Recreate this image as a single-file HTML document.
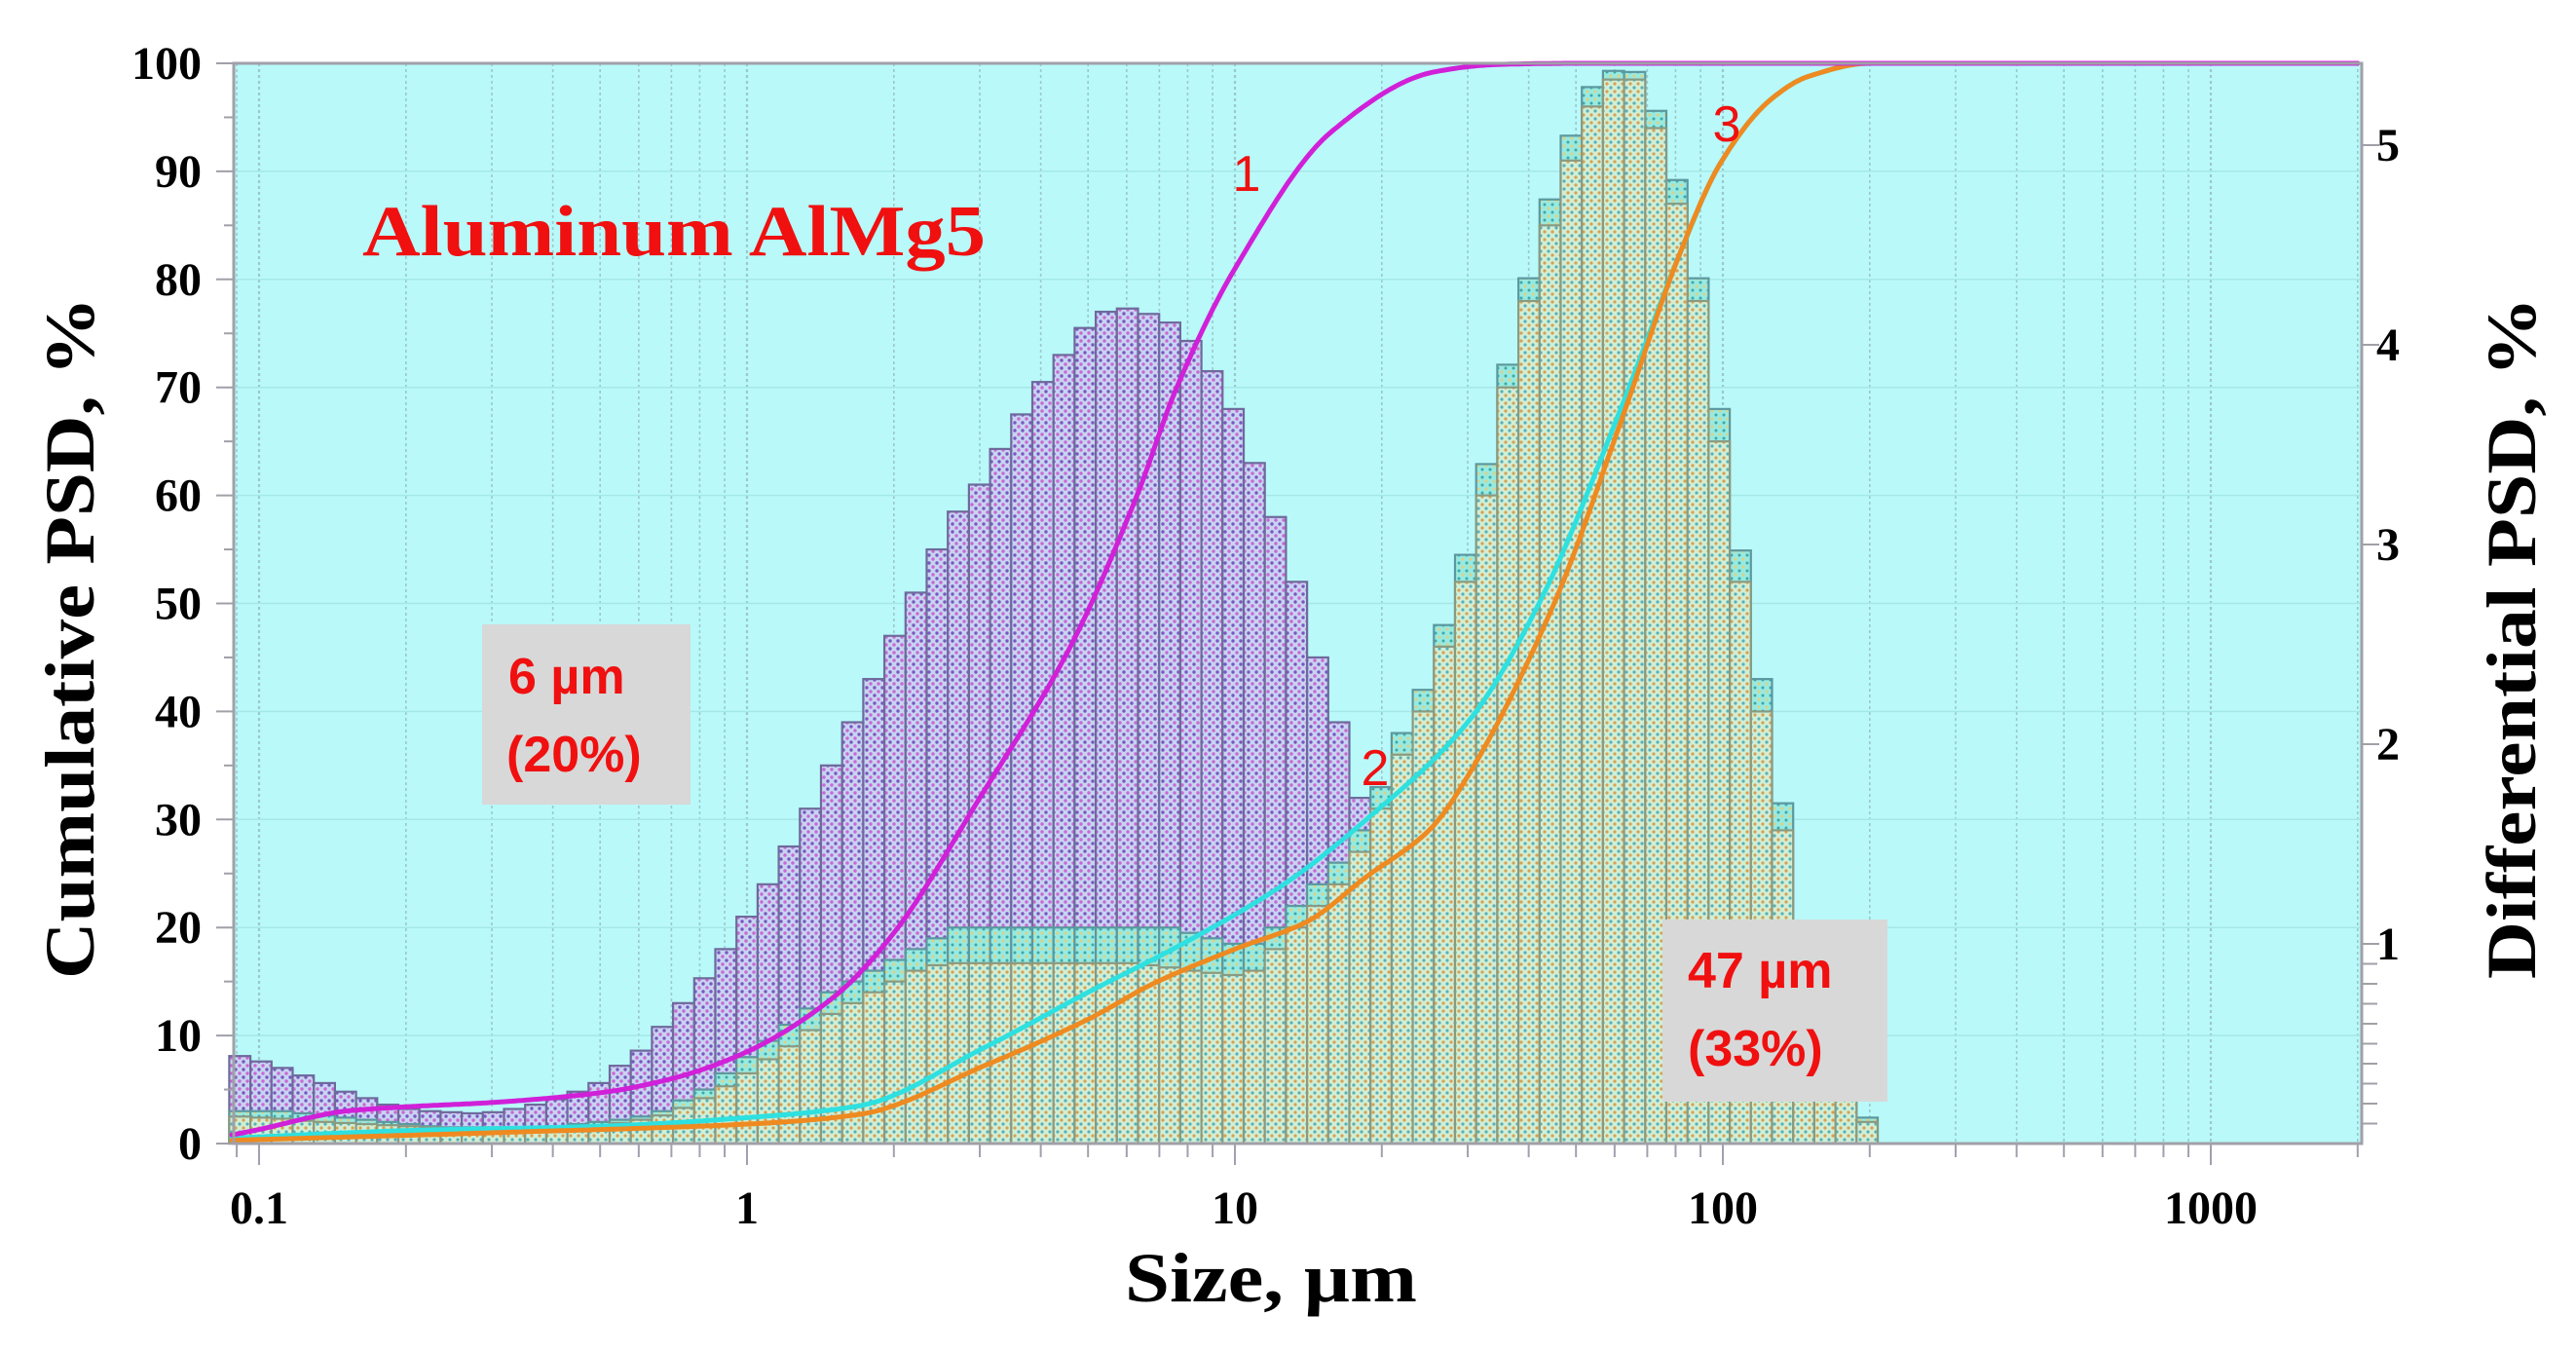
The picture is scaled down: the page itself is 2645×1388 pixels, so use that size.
<!DOCTYPE html>
<html><head><meta charset="utf-8"><style>
html,body{margin:0;padding:0;background:#fff;}
svg{display:block;}
</style></head><body>
<svg id="chart" width="2645" height="1388" viewBox="0 0 2645 1388" xmlns="http://www.w3.org/2000/svg">
<defs>
<pattern id="pPurple" width="8" height="8" patternUnits="userSpaceOnUse">
<rect width="8" height="8" fill="#c8d4f2"/>
<circle cx="2" cy="2" r="1.7" fill="#7858c0"/>
<circle cx="6" cy="6" r="1.7" fill="#c868d0"/>
</pattern>
<pattern id="pCyan" width="8" height="8" patternUnits="userSpaceOnUse">
<rect width="8" height="8" fill="#98eae0"/>
<circle cx="2" cy="2" r="1.5" fill="#40a8a8"/>
<circle cx="6" cy="6" r="1.5" fill="#e0d080"/>
</pattern>
<pattern id="pYellow" width="8" height="8" patternUnits="userSpaceOnUse">
<rect width="8" height="8" fill="#d2eed4"/>
<circle cx="2" cy="6" r="1.6" fill="#d8a050"/>
<circle cx="6" cy="2" r="1.6" fill="#58b0b8"/>
</pattern>
</defs>
<g id="plot"></g>
</svg>
<script>
// ---- data ----
const purpleBins = [8.1,7.6,7.0,6.3,5.6,4.8,4.2,3.6,3.2,3.0,2.9,2.8,2.9,3.2,3.6,4.1,4.8,5.6,7.2,8.6,10.8,13,15.3,18,21,24,27.5,31,35,39,43,47,51,55,58.5,61,64.3,67.5,70.5,73,75.5,77,77.3,76.8,76,74.3,71.5,68,63,58,52,45,39,32,25,18,12,7,4,2.5,1.5,1,0.6,0.5,0.4,0.3,0.2];
const cyanBins = [3,3,3,2.8,2.6,2.4,2.2,2,1.8,1.6,1.5,1.5,1.5,1.5,1.5,1.6,1.8,2,2.2,2.5,3,4,5,6.5,8,9.5,11,12.5,14,15,16,17,18,19,20,20,20,20,20,20,20,20,20,20,20,19.5,19,18.5,18.5,20,22,24,26,29,33,38,42,48,54.5,62.9,72.1,80.1,87.4,93.3,97.8,99.3,99.2,95.6,89.2,80.1,68,54.9,43,31.5,20.3,10,4.8,2.4];
const yellowBins = [2.5,2.4,2.3,2.1,2,1.9,1.8,1.7,1.6,1.5,1.4,1.3,1.3,1.3,1.3,1.4,1.5,1.7,1.9,2.2,2.6,3.3,4.2,5.3,6.5,7.8,9,10.5,12,13,14,15,16,16.5,16.7,16.7,16.7,16.7,16.7,16.7,16.7,16.7,16.7,16.5,16.3,16,15.8,15.6,16,18,20,22,24,27,31,36,40,46,52,60,70,78,85,91,96,98.5,98.5,94,87,78,65,52,40,29,18,8.5,4,2];
const xTicks = [0.1,1,10,100,1000];
const xTickLabels = ["0.1","1","10","100","1000"];
const yTicks = [0,10,20,30,40,50,60,70,80,90,100];
const y2Ticks = [1,2,3,4,5];
const c1x = [0.088,0.1,0.13,0.15,0.2,0.3,0.5,0.7,1,1.5,2,3,4.6,6.3,7.6,10,15.8,25.6,35,50,2000];
const c1y = [0.8,1.3,2.5,3,3.4,3.8,4.7,6,8.5,13.5,19.5,32,46,60,70,81,93.7,99.2,99.9,100,100];
const c2x = [0.088,0.2,0.5,1,1.7,3.1,5,7.9,12.6,18.6,30,42,62,81,99,125,150,200,2000];
const c2y = [0.5,1.2,1.6,2.4,3.5,9,14,18.6,24,30,39,50,68.2,82,90.8,96.6,98.8,100,100];
const c3x = [0.088,0.3,1,1.7,3.1,5,6.8,10,14,18.6,25,30,45,62,81,99,125,150,200,2000];
const c3y = [0.3,1,1.8,2.7,7.3,11.5,14.8,18,20.5,24.7,29,34,49.9,67,82,90.8,96.6,98.8,100,100];

// ---- scales ----
const L=240, R=2425, T=65, B=1174;
const X0=266, DEC=501;
function xs(v){return X0+(Math.log10(v)+1)*DEC;}
function ys(p){return B-(B-T)*p/100;}
function ys2(d){return B-d*205;}
const binW=21.7, bin0=235.4;
function binLeft(k){return bin0+binW*k;}

const NS="http://www.w3.org/2000/svg";
const g=document.getElementById('plot');
function mk(tag,attrs,parent){const e=document.createElementNS(NS,tag);for(const k in attrs)e.setAttribute(k,attrs[k]);(parent||g).appendChild(e);return e;}

const bg=mk('rect',{x:L,y:T,width:R-L,height:B-T,fill:'#b9f9f9'});



const grid=mk('g',{});


for(let d=-2;d<=3;d++){for(let m=1;m<10;m++){const v=m*Math.pow(10,d);const x=xs(v);if(x<L||x>R)continue;
 mk('line',{x1:x,y1:T,x2:x,y2:B,stroke:'#9cc8cc','stroke-width':m===1?2.2:1.6,'stroke-dasharray':'3,3'},grid);
 mk('line',{x1:x,y1:B,x2:x,y2:B+(m===1?22:14),stroke:'#a0a0b0','stroke-width':2},grid);}}
yTicks.forEach(t=>{mk('line',{x1:L,y1:ys(t),x2:R,y2:ys(t),stroke:'#a6e8e8','stroke-width':1.5},grid);});

function drawBars(arr,fill,name,stroke){
 const gg=mk('g',{});
 
 
 arr.forEach((v,k)=>{const x=binLeft(k);const y=ys(v);
  const r=mk('rect',{x:x,y:y,width:binW,height:B-y,fill:fill,stroke:stroke,'stroke-width':2.2},gg);
  
  
 });
}
drawBars(purpleBins,'url(#pPurple)','bars-sample-1','#6e6a9c');
drawBars(cyanBins,'url(#pCyan)','bars-sample-2','#5c98a0');
drawBars(yellowBins,'url(#pYellow)','bars-sample-3','#8a9a80');

// monotone cubic interpolation in log-x space
function monotone(xa,ya){
 const n=xa.length, lx=xa.map(v=>Math.log10(v));
 const d=[],m=new Array(n);
 for(let i=0;i<n-1;i++)d.push((ya[i+1]-ya[i])/(lx[i+1]-lx[i]));
 m[0]=d[0];m[n-1]=d[n-2];
 for(let i=1;i<n-1;i++){ if(d[i-1]*d[i]<=0)m[i]=0; else m[i]=2/(1/d[i-1]+1/d[i]); }
 return function(v){const t0=Math.log10(v);let i=0;while(i<n-2&&t0>lx[i+1])i++;
  const h=lx[i+1]-lx[i],t=(t0-lx[i])/h;const t2=t*t,t3=t2*t;
  return (2*t3-3*t2+1)*ya[i]+(t3-2*t2+t)*h*m[i]+(-2*t3+3*t2)*ya[i+1]+(t3-t2)*h*m[i+1];};
}
function drawCurve(xa,ya,color,name){
 const f=monotone(xa,ya);let d='';
 const lo=Math.log10(xa[0]),hi=Math.log10(2000);
 for(let s=0;s<=600;s++){const v=Math.pow(10,lo+(hi-lo)*s/600);const x=Math.min(xs(v),R);
  d+=(s?'L':'M')+x.toFixed(1)+','+ys(Math.min(100,f(v))).toFixed(1);}
 const p=mk('path',{d:d,fill:'none',stroke:color,'stroke-width':5,'stroke-linejoin':'round','stroke-linecap':'round'});
 
 
}
drawCurve(c2x,c2y,'#2ee0e0','cumulative-curve-2');
drawCurve(c3x,c3y,'#ee8a20','cumulative-curve-3');
drawCurve(c1x,c1y,'#d020d8','cumulative-curve-1');

const fr=mk('rect',{x:L,y:T,width:R-L,height:B-T,fill:'none',stroke:'#a0a0a8','stroke-width':3});



const ax=mk('g',{'font-family':'Liberation Serif, serif','font-weight':'bold','font-size':48,fill:'#000'});


yTicks.forEach(t=>{mk('line',{x1:L-18,y1:ys(t),x2:L,y2:ys(t),stroke:'#a0a0a8','stroke-width':2},ax);
 if(t<100) mk('line',{x1:L-10,y1:ys(t+5),x2:L,y2:ys(t+5),stroke:'#a0a0a8','stroke-width':2},ax);
 const tx=mk('text',{x:207,y:ys(t)+16,'text-anchor':'end'},ax);tx.textContent=String(t);
 
 });
y2Ticks.forEach(t=>{mk('line',{x1:R,y1:ys2(t),x2:R+18,y2:ys2(t),stroke:'#a0a0a8','stroke-width':2},ax);
 const tx=mk('text',{x:2440,y:ys2(t)+16,'text-anchor':'start'},ax);tx.textContent=String(t);
 
 });
for(let i=1;i<10;i++){mk('line',{x1:R,y1:ys2(i/10),x2:R+16,y2:ys2(i/10),stroke:'#a0a0a8','stroke-width':2},ax);}
xTicks.forEach((t,i)=>{const tx=mk('text',{x:xs(t),y:1256,'text-anchor':'middle'},ax);tx.textContent=xTickLabels[i];
 
 });
</script>
<svg style="position:absolute;left:0;top:0" width="2645" height="1388">
<text transform="translate(96,655) rotate(-90)" text-anchor="middle" font-family="Liberation Serif, serif" font-weight="bold" font-size="72" textLength="700" lengthAdjust="spacingAndGlyphs">Cumulative PSD, %</text>
<text transform="translate(2603,655) rotate(-90)" text-anchor="middle" font-family="Liberation Serif, serif" font-weight="bold" font-size="72" textLength="700" lengthAdjust="spacingAndGlyphs">Differential PSD, %</text>
<text x="1305" y="1336" text-anchor="middle" font-family="Liberation Serif, serif" font-weight="bold" font-size="72" textLength="300" lengthAdjust="spacingAndGlyphs">Size, µm</text>
<text x="372" y="262" fill="#f01010" font-family="Liberation Serif, serif" font-weight="bold" font-size="74" textLength="640" lengthAdjust="spacingAndGlyphs">Aluminum AlMg5</text>
<text x="1280" y="196" text-anchor="middle" fill="#f01010" font-family="Liberation Sans, sans-serif" font-size="52">1</text>
<text x="1412" y="806" text-anchor="middle" fill="#f01010" font-family="Liberation Sans, sans-serif" font-size="52">2</text>
<text x="1773" y="145" text-anchor="middle" fill="#f01010" font-family="Liberation Sans, sans-serif" font-size="52">3</text>
<g>
<rect x="495" y="641" width="214" height="185" fill="#d8d8d8"/>
<text x="522" y="712" fill="#f01010" font-family="Liberation Sans, sans-serif" font-weight="bold" font-size="52">6 µm</text>
<text x="520" y="792" fill="#f01010" font-family="Liberation Sans, sans-serif" font-weight="bold" font-size="52">(20%)</text>
</g>
<g>
<rect x="1707" y="944" width="231" height="187" fill="#d8d8d8"/>
<text x="1733" y="1014" fill="#f01010" font-family="Liberation Sans, sans-serif" font-weight="bold" font-size="52">47 µm</text>
<text x="1733" y="1094" fill="#f01010" font-family="Liberation Sans, sans-serif" font-weight="bold" font-size="52">(33%)</text>
</g>
</svg>
</body></html>
